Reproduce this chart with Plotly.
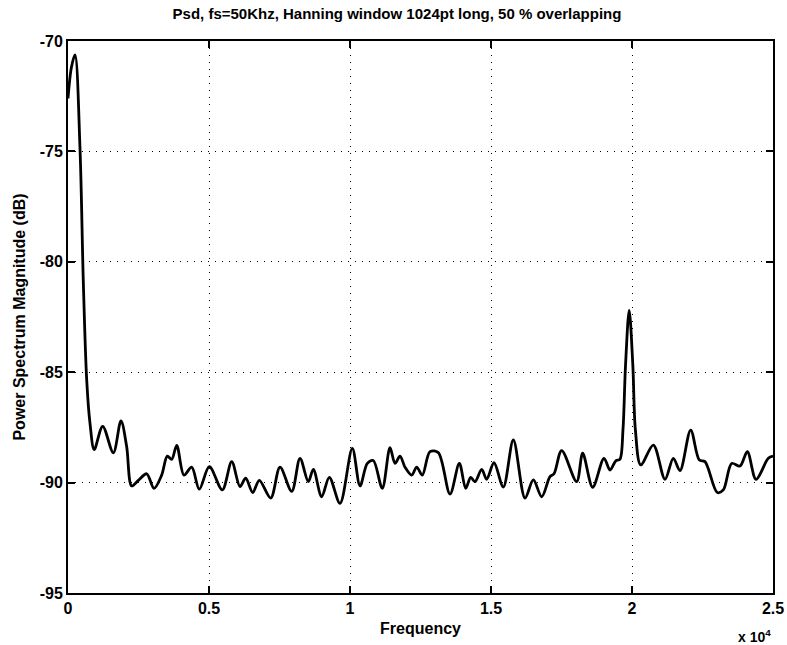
import plotly.graph_objects as go

title_text = "Psd, fs=50Khz, Hanning window 1024pt long, 50 % overlapping"
x_label = "Frequency"
y_label = "Power Spectrum Magnitude (dB)"

freq_hz = [0, 120, 248, 425, 543, 663, 780, 930, 1230, 1607, 1879, 2080, 2258, 2494, 2790,
           3050, 3322, 3521, 3677, 3855, 4113, 4386, 4656, 5011, 5472, 5805, 6099, 6301,
           6550, 6784, 7188, 7518, 7933, 8227, 8522, 8700, 8995, 9266, 9645, 10082, 10355,
           10614, 10826, 11145, 11418, 11596, 11773, 11950, 12188, 12365, 12565, 12837,
           13132, 13546, 13877, 14102, 14280, 14433, 14670, 14847, 15106, 15437, 15792,
           16206, 16501, 16797, 17092, 17234, 17506, 18038, 18251, 18605, 19007, 19220,
           19433, 19570, 19680, 19770, 19900, 20030, 20120, 20309, 20757, 21170, 21465,
           21702, 22081, 22388, 22589, 23024, 23238, 23535, 23830, 24089, 24397, 24833,
           25000]
psd_db = [-72.6, -71.2, -70.63, -74.86, -80.9, -85.35, -87.32, -88.5, -87.45, -88.65, -87.2,
          -88.37, -90.15, -89.9, -89.6, -90.26, -89.66, -88.8, -88.95, -88.31, -89.66,
          -89.3, -90.3, -89.28, -90.33, -89.05, -90.18, -89.8, -90.45, -89.9, -90.7, -89.3,
          -90.4, -88.9, -89.96, -89.4, -90.64, -89.76, -90.94, -88.45, -90.15, -89.13,
          -89.0, -90.26, -88.42, -89.13, -88.8, -89.3, -89.66, -89.3, -89.66, -88.6,
          -88.64, -90.52, -89.13, -90.26, -89.76, -89.96, -89.4, -89.85, -89.1, -90.2,
          -88.07, -90.7, -89.88, -90.64, -89.73, -89.6, -88.55, -89.96, -88.67, -90.21,
          -88.9, -89.43, -89.0, -88.95, -87.6, -84.7, -82.2, -84.7, -87.6, -89.2, -88.3,
          -89.85, -88.9, -89.46, -87.62, -88.98, -89.05, -90.45, -90.33, -89.13, -89.25,
          -88.6, -89.85, -88.9, -88.8]

x_tickvals = [0, 5000, 10000, 15000, 20000, 25000]
x_ticktext = ["0", "0.5", "1", "1.5", "2", "2.5"]
y_tickvals = [-95, -90, -85, -80, -75, -70]
y_ticktext = ["-95", "-90", "-85", "-80", "-75", "-70"]

FONT = "Liberation Sans"

fig = go.Figure()
fig.add_trace(go.Scatter(
    x=freq_hz, y=psd_db, mode="lines",
    line=dict(color="black", width=2.8, shape="spline", smoothing=0.9),
    showlegend=False,
))

axis_common = dict(
    showline=True, linecolor="black", linewidth=2, mirror="ticks",
    ticks="inside", ticklen=7, tickwidth=1.5, tickcolor="black",
    showgrid=True, gridcolor="black", gridwidth=1, griddash="1px,6px",
    zeroline=False, automargin=False,
    tickfont=dict(family=FONT, size=16, color="black", weight="bold"),
)

fig.update_layout(
    width=787, height=645,
    margin=dict(l=68, r=14, t=41, b=52, autoexpand=False),
    paper_bgcolor="white", plot_bgcolor="white",
    title=dict(text=title_text, x=397 / 787, xanchor="center", xref="container",
               y=1 - 14 / 645, yanchor="middle", yref="container", automargin=False,
               font=dict(family=FONT, size=15, color="black", weight="bold")),
    xaxis=dict(range=[0, 25000], tickvals=x_tickvals, ticktext=x_ticktext,
               title=dict(text=x_label, standoff=7,
                          font=dict(family=FONT, size=16, color="black", weight="bold")),
               **axis_common),
    yaxis=dict(range=[-95, -70], tickvals=y_tickvals, ticktext=y_ticktext,
               title=dict(text=y_label, standoff=10,
                          font=dict(family=FONT, size=16, color="black", weight="bold")),
               **axis_common),
)

fig.add_annotation(
    text="x 10<sup>4</sup>", xref="paper", yref="paper", x=1.0, y=0, xanchor="right",
    yanchor="top", yshift=-32, showarrow=False,
    font=dict(family=FONT, size=14, color="black", weight="bold"),
)

fig.write_html("out.html")
